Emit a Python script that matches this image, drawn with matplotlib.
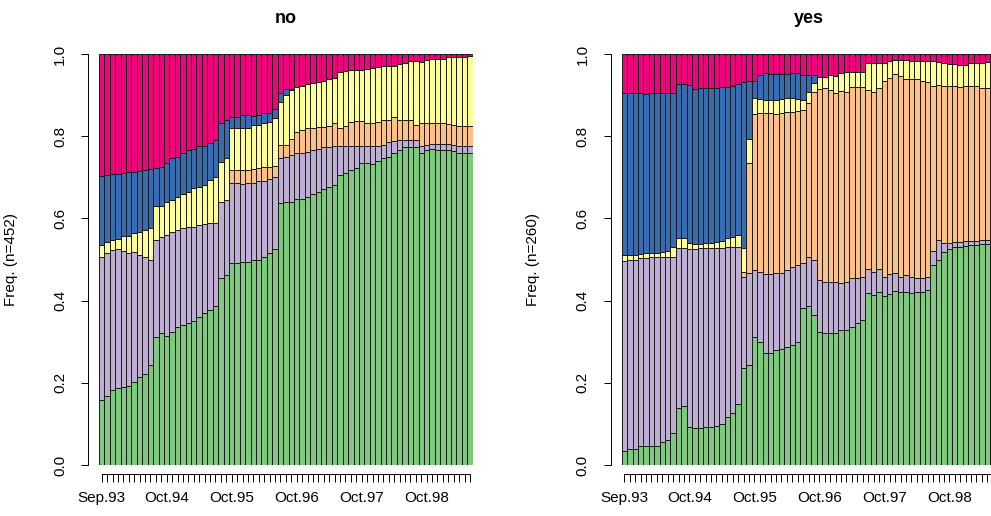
import numpy as np
import matplotlib
matplotlib.use("Agg")
import matplotlib.pyplot as plt

plt.rcParams["font.family"] = ["Liberation Sans", "DejaVu Sans"]

# colours of the six levels, bottom to top
level_colors = ["#7FC97F", "#BEAED4", "#FDC086", "#FFFF99", "#386CB0", "#F0027F"]

# x axis: one bar per period, only some names fit
label_index = [0, 12, 24, 36, 48, 60]
label_text = ["Sep.93", "Oct.94", "Oct.95", "Oct.96", "Oct.97", "Oct.98"]

# cumulative shares (top of levels 1..5) per period, group "no" (n=452)
no_top1 = [0.158, 0.168, 0.182, 0.187, 0.190, 0.192, 0.203, 0.215, 0.221, 0.243,
           0.311, 0.322, 0.314, 0.324, 0.335, 0.340, 0.346, 0.351, 0.361, 0.369, 0.377, 0.387,
           0.454, 0.462, 0.491, 0.491, 0.495, 0.495, 0.499, 0.499, 0.505, 0.515, 0.525,
           0.637, 0.641, 0.641, 0.647, 0.647, 0.653, 0.659, 0.665, 0.672, 0.677, 0.681,
           0.706, 0.711, 0.718, 0.723, 0.734, 0.734, 0.732, 0.740, 0.746, 0.750, 0.760, 0.766,
           0.773, 0.774, 0.773,
           0.758, 0.766, 0.768, 0.766, 0.766, 0.766, 0.765, 0.760, 0.758, 0.760]
no_top2 = [0.507, 0.515, 0.523, 0.525, 0.520, 0.515, 0.518, 0.512, 0.505, 0.500,
           0.547, 0.555, 0.560, 0.566, 0.572, 0.576, 0.578, 0.580, 0.584, 0.586, 0.589, 0.590,
           0.641, 0.645, 0.685, 0.685, 0.684, 0.685, 0.687, 0.690, 0.692, 0.695, 0.700,
           0.746, 0.750, 0.754, 0.758, 0.758, 0.762, 0.766, 0.770, 0.774, 0.774, 0.775,
           0.775, 0.775, 0.775, 0.775, 0.775, 0.775, 0.776, 0.776, 0.778,
           0.785, 0.788, 0.790, 0.790, 0.791, 0.791,
           0.777, 0.779, 0.780, 0.782, 0.782, 0.780, 0.778, 0.776, 0.775, 0.775]
no_top3 = [0.507, 0.515, 0.523, 0.525, 0.520, 0.515, 0.518, 0.512, 0.505, 0.500,
           0.547, 0.555, 0.560, 0.566, 0.572, 0.576, 0.578, 0.580, 0.584, 0.586, 0.589, 0.590,
           0.641, 0.645, 0.718, 0.718, 0.717, 0.718, 0.720, 0.722, 0.724, 0.725, 0.727,
           0.779, 0.779, 0.792, 0.811, 0.815, 0.819, 0.821, 0.823, 0.823, 0.824,
           0.831, 0.821, 0.824, 0.835, 0.836, 0.836, 0.833, 0.831, 0.835, 0.839,
           0.840, 0.846, 0.840, 0.839, 0.839, 0.827, 0.831, 0.832, 0.831, 0.831,
           0.831, 0.830, 0.828, 0.826, 0.826, 0.825]
no_top4 = [0.535, 0.543, 0.547, 0.551, 0.556, 0.558, 0.564, 0.568, 0.572, 0.576,
           0.631, 0.631, 0.641, 0.645, 0.653, 0.659, 0.665, 0.673, 0.677, 0.681, 0.693, 0.701,
           0.738, 0.746, 0.819, 0.819, 0.821, 0.821, 0.827, 0.827, 0.831, 0.835, 0.845,
           0.884, 0.900, 0.912,
           0.920, 0.923, 0.926, 0.930, 0.933, 0.935, 0.938, 0.941,
           0.955, 0.959, 0.961, 0.961, 0.961, 0.963, 0.965, 0.969, 0.971, 0.971,
           0.972, 0.975, 0.977, 0.984, 0.984, 0.981, 0.985, 0.987, 0.987, 0.989,
           0.992, 0.993, 0.993, 0.993, 0.995]
no_top5 = [0.703, 0.706, 0.707, 0.707, 0.710, 0.712, 0.714, 0.716, 0.718, 0.720,
           0.722, 0.726, 0.734, 0.746, 0.750, 0.758, 0.766, 0.770, 0.775, 0.776, 0.783, 0.791,
           0.831, 0.839, 0.847, 0.847, 0.852, 0.852, 0.850, 0.852, 0.857, 0.857, 0.865,
           0.904, 0.914, 0.916,
           0.920, 0.923, 0.926, 0.930, 0.933, 0.935, 0.938, 0.941,
           0.955, 0.959, 0.961, 0.961, 0.961, 0.963, 0.965, 0.969, 0.971, 0.971,
           0.972, 0.975, 0.977, 0.984, 0.984, 0.981, 0.985, 0.987, 0.987, 0.989,
           0.992, 0.993, 0.993, 0.993, 0.995]

# same for group "yes" (n=260)
yes_top1 = [0.035, 0.039, 0.039, 0.047, 0.047, 0.047, 0.047, 0.055, 0.061, 0.077,
            0.138, 0.144, 0.093, 0.091, 0.091, 0.093, 0.093, 0.095, 0.100, 0.118, 0.126, 0.148,
            0.235, 0.243, 0.311, 0.300, 0.273, 0.272, 0.281, 0.283, 0.286, 0.292, 0.300,
            0.381, 0.387, 0.365, 0.324, 0.322, 0.322, 0.322, 0.328, 0.328, 0.336, 0.345, 0.353,
            0.418, 0.414, 0.422, 0.410, 0.416, 0.424, 0.422, 0.420, 0.418, 0.420, 0.422, 0.426,
            0.487, 0.500, 0.519, 0.525, 0.530, 0.530, 0.532, 0.535, 0.535, 0.537, 0.538, 0.540]
yes_top2 = [0.497, 0.500, 0.500, 0.503, 0.503, 0.505, 0.505, 0.505, 0.505, 0.505,
            0.527, 0.527, 0.525, 0.525, 0.527, 0.527, 0.527, 0.528, 0.528, 0.530, 0.530, 0.530,
            0.457, 0.466,
            0.474, 0.470, 0.465, 0.465, 0.466, 0.468, 0.474, 0.482, 0.487,
            0.491, 0.505, 0.499,
            0.450, 0.446, 0.446, 0.446, 0.442, 0.446, 0.454, 0.454, 0.458,
            0.478, 0.470, 0.476, 0.458, 0.465, 0.468, 0.458, 0.462, 0.458, 0.455, 0.456, 0.458,
            0.520, 0.547, 0.540, 0.540, 0.542, 0.543, 0.545, 0.545, 0.546, 0.547, 0.548, 0.550]
yes_top3 = [0.497, 0.500, 0.500, 0.503, 0.503, 0.505, 0.505, 0.505, 0.505, 0.505,
            0.527, 0.527, 0.525, 0.525, 0.527, 0.527, 0.527, 0.528, 0.528, 0.530, 0.530, 0.530,
            0.470, 0.734,
            0.853, 0.856, 0.856, 0.856, 0.855, 0.856, 0.858, 0.860, 0.862,
            0.864, 0.880, 0.908,
            0.914, 0.917, 0.912, 0.904, 0.911, 0.908, 0.919, 0.919, 0.919,
            0.912, 0.908, 0.918, 0.935, 0.941, 0.951, 0.946, 0.938, 0.938, 0.938,
            0.935, 0.933, 0.922, 0.925, 0.922, 0.922, 0.921, 0.919, 0.921, 0.922,
            0.921, 0.918, 0.917, 0.917]
yes_top4 = [0.511, 0.512, 0.512, 0.514, 0.515, 0.515, 0.517, 0.518, 0.520, 0.530,
            0.552, 0.552, 0.540, 0.538, 0.538, 0.540, 0.540, 0.542, 0.545, 0.552, 0.555, 0.560,
            0.527, 0.792,
            0.892, 0.890, 0.888, 0.888, 0.888, 0.890, 0.892, 0.892, 0.890,
            0.888, 0.908, 0.929,
            0.945, 0.945, 0.949, 0.946, 0.953, 0.955, 0.955, 0.955, 0.955,
            0.977, 0.977, 0.977, 0.979, 0.984, 0.985, 0.985, 0.985, 0.984, 0.984,
            0.984, 0.984, 0.984, 0.981, 0.977, 0.976, 0.976, 0.973, 0.973, 0.977,
            0.977, 0.977, 0.981, 0.981]
yes_top5 = [0.906, 0.905, 0.904, 0.904, 0.902, 0.904, 0.904, 0.904, 0.905, 0.906,
            0.926, 0.927, 0.925, 0.916, 0.918, 0.918, 0.918, 0.918, 0.919, 0.920, 0.921, 0.928,
            0.933, 0.935,
            0.935, 0.949, 0.953, 0.951, 0.951, 0.951, 0.951, 0.953, 0.953,
            0.949, 0.949, 0.949,
            0.945, 0.945, 0.949, 0.946, 0.953, 0.955, 0.955, 0.955, 0.955,
            0.977, 0.977, 0.977, 0.979, 0.984, 0.985, 0.985, 0.985, 0.984, 0.984,
            0.984, 0.984, 0.984, 0.981, 0.977, 0.976, 0.976, 0.973, 0.973, 0.977,
            0.977, 0.977, 0.981, 0.981]

groups = [
    ("no", 452, [no_top1, no_top2, no_top3, no_top4, no_top5]),
    ("yes", 260, [yes_top1, yes_top2, yes_top3, yes_top4, yes_top5]),
]

W, H = 991, 516
fig = plt.figure(figsize=(W / 100, H / 100), dpi=100)

# panel boxes in pixels: left, top, width, height
panel_px = [(99, 54, 373.7, 411), (621.7, 54, 373.7, 411)]


def draw_panel(ax, title, n, tops):
    tops = [np.asarray(t, dtype=float) for t in tops]
    n_bars = len(tops[0])
    idx = np.arange(n_bars)
    bounds = [np.zeros(n_bars)] + tops + [np.ones(n_bars)]
    for k, col in enumerate(level_colors):
        ax.bar(idx, bounds[k + 1] - bounds[k], bottom=bounds[k], width=1.0,
               align="edge", color=col, edgecolor="#1a1a1a", linewidth=0.7)

    ax.set_xlim(0, n_bars)
    ax.set_ylim(0, 1)
    for side in ["top", "right"]:
        ax.spines[side].set_visible(False)
    ax.spines["left"].set_position(("outward", 8))
    ax.spines["bottom"].set_position(("outward", 6.5))
    ax.spines["left"].set_bounds(0, 1)
    ax.spines["bottom"].set_bounds(0.5, n_bars - 0.5)
    for side in ["left", "bottom"]:
        ax.spines[side].set_linewidth(0.7)

    ax.set_xticks(idx + 0.5)
    names = [""] * n_bars
    for i, txt in zip(label_index, label_text):
        names[i] = txt
    ax.set_xticklabels(names, fontsize=11)
    ax.tick_params(axis="x", length=6, width=0.7, pad=6)

    ax.set_yticks(np.arange(0, 1.01, 0.2))
    ax.set_yticklabels([f"{v:.1f}" for v in np.arange(0, 1.01, 0.2)], fontsize=11)
    ax.tick_params(axis="y", length=5, width=0.7, pad=10, labelrotation=90)
    for t in ax.get_yticklabels():
        t.set_verticalalignment("center")

    ax.set_ylabel(f"Freq. (n={n})", fontsize=11)
    ax.yaxis.set_label_coords(-0.218, 0.5)
    ax.text(0.5, 1 + 36 / 411, title, transform=ax.transAxes, ha="center",
            va="center", fontsize=13, fontweight="bold")


for (title, n, tops), (x0, y0, w, h) in zip(groups, panel_px):
    ax = fig.add_axes([x0 / W, 1 - (y0 + h) / H, w / W, h / H])
    draw_panel(ax, title, n, tops)

fig.savefig("out.png", dpi=100)
